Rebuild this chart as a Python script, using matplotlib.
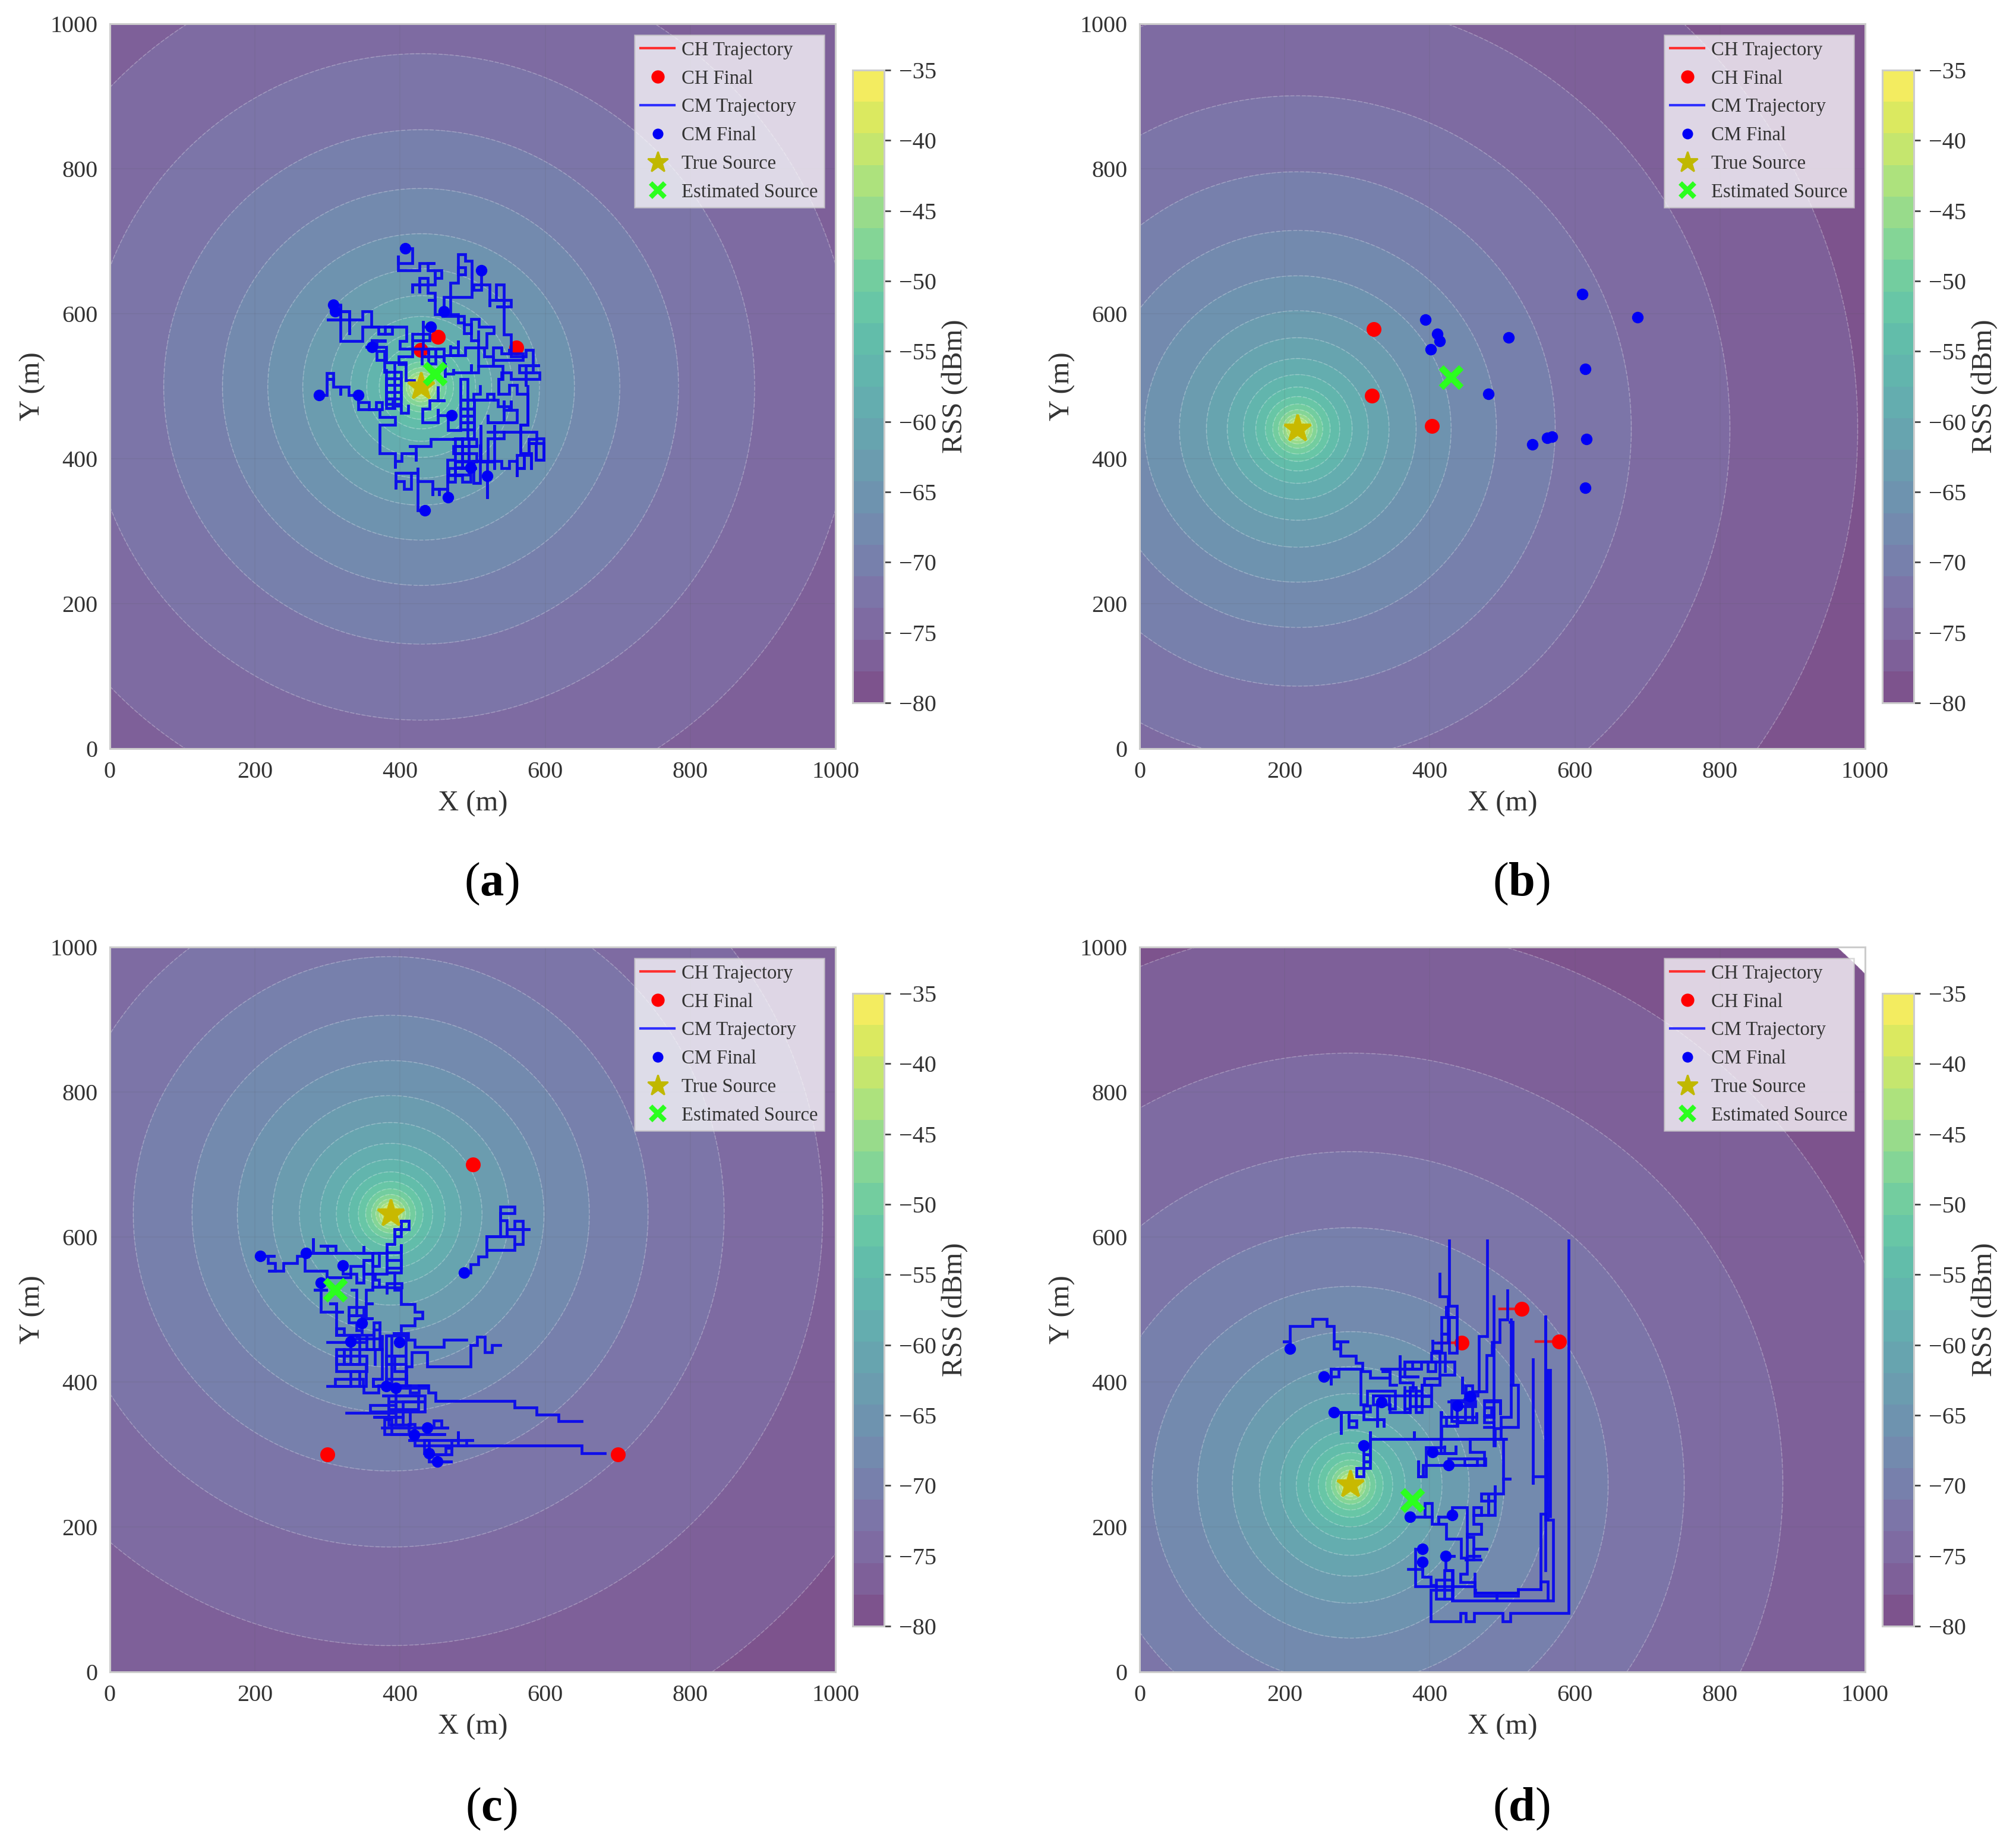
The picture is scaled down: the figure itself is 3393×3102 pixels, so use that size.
import numpy as np
import matplotlib
matplotlib.use("Agg")
import matplotlib.pyplot as plt
from matplotlib.lines import Line2D

W, H = 3393, 3102
plt.rcParams['font.family'] = ['Liberation Serif', 'DejaVu Serif']
plt.rcParams['mathtext.fontset'] = 'custom'
plt.rcParams['mathtext.rm'] = 'Liberation Serif'
plt.rcParams['mathtext.bf'] = 'Liberation Serif:bold'

panel_labels = ['a', 'b', 'c', 'd']
legend_labels = ['CH Trajectory', 'CH Final', 'CM Trajectory', 'CM Final', 'True Source', 'Estimated Source']
rss_levels = np.linspace(-80, -35, 21)
rss_ticks = [-35, -40, -45, -50, -55, -60, -65, -70, -75, -80]
axis_ticks = [0, 200, 400, 600, 800, 1000]

true_source = {'a': (429, 499), 'b': (218, 441), 'c': (387, 632), 'd': (291, 258)}
est_source = {'a': (448, 517), 'b': (429, 512), 'c': (310, 527), 'd': (376, 237)}

ch_final_a = [(452, 568), (428, 550), (560, 553)]
ch_final_b = [(323, 579), (320, 487), (403, 445)]
ch_final_c = [(300, 300), (500, 700), (700, 300)]
ch_final_d = [(444, 454), (527, 501), (578, 456)]

cm_final_a = [(407, 690), (512, 660), (308, 612), (310, 603), (460, 603), (442, 582), (361, 554),
              (288, 488), (342, 488), (471, 460), (497, 388), (520, 376), (466, 347), (434, 329)]
cm_final_b = [(610, 627), (686, 595), (394, 592), (410, 572), (414, 562), (509, 567), (401, 551),
              (614, 524), (481, 489), (541, 420), (568, 430), (562, 429), (616, 427), (614, 360)]
cm_final_c = [(207, 574), (270, 578), (321, 561), (291, 537), (347, 481), (332, 456), (399, 455),
              (381, 394), (394, 392), (437, 337), (419, 327), (440, 302), (451, 290), (488, 551)]
cm_final_d = [(207, 446), (254, 407), (268, 358), (333, 372), (309, 312), (438, 367), (404, 303),
              (426, 285), (373, 214), (431, 216), (390, 170), (422, 160), (390, 152), (455, 380)]

ch_paths_a = [[(438, 550), (428, 550)]]
ch_paths_d = [[(412, 454), (444, 454)], [(496, 501), (527, 501)], [(546, 456), (578, 456)]]

cm_paths_a = [
    [(407, 690), (417, 690), (417, 670), (397, 670), (397, 680), (397, 660), (427, 660), (427, 670), (448, 670),
     (438, 670), (438, 660), (457, 660), (457, 649), (448, 649), (448, 660), (448, 640), (438, 640), (438, 649),
     (427, 649), (427, 629), (427, 640), (417, 640), (417, 629), (417, 640), (438, 640), (438, 629), (448, 629),
     (448, 619), (438, 619), (448, 619), (448, 599), (468, 599), (480, 599), (480, 588), (488, 588), (488, 573),
     (498, 573), (498, 593), (509, 593), (509, 582), (529, 582), (529, 573), (519, 573), (519, 553)],
    [(460, 603), (460, 623), (499, 623), (499, 673), (490, 673), (490, 682), (480, 682), (480, 654), (490, 654),
     (490, 664), (480, 664), (480, 643), (469, 643), (469, 599), (459, 597), (488, 597), (488, 585), (498, 585),
     (498, 563), (508, 563), (508, 575)],
    [(512, 660), (512, 640), (501, 640), (501, 633), (512, 633), (512, 640), (523, 640), (523, 610), (523, 619),
     (553, 619), (553, 610), (532, 610), (543, 610), (543, 619), (532, 619), (532, 640), (543, 640), (543, 571),
     (553, 571), (553, 560), (553, 541), (564, 541), (573, 541), (573, 550), (583, 550), (583, 519), (573, 519),
     (573, 500), (573, 529), (592, 529), (564, 529), (564, 519), (592, 519), (592, 510), (553, 510), (553, 519),
     (540, 519), (540, 510), (536, 505), (536, 489)],
    [(310, 603), (330, 603), (330, 571), (330, 603), (318, 603), (318, 612), (318, 562), (348, 562), (348, 582),
     (360, 582), (409, 582), (409, 562), (400, 562), (400, 552), (417, 552), (417, 572), (441, 572), (441, 563),
     (417, 563)],
    [(308, 612), (318, 612), (318, 592), (299, 592), (348, 592), (348, 603), (360, 603), (360, 582), (370, 582),
     (370, 572), (389, 572), (389, 582), (379, 582), (379, 572)],
    [(361, 554), (352, 554), (361, 554), (361, 563), (379, 562), (361, 563), (368, 554), (381, 552), (381, 536),
     (368, 536), (368, 548), (381, 548), (378, 536), (378, 520), (392, 520), (392, 533), (378, 533), (392, 533),
     (408, 529), (408, 508), (419, 508)],
    [(381, 522), (381, 475), (401, 475), (401, 520), (392, 520), (392, 470), (381, 470), (381, 511), (401, 511),
     (401, 502), (381, 502), (381, 492), (401, 492), (401, 483), (381, 483), (390, 481), (390, 473), (401, 473),
     (401, 463), (411, 463), (411, 473)],
    [(442, 582), (432, 590), (432, 552), (417, 552), (417, 541), (398, 541), (398, 530), (408, 530)],
    [(430, 531), (430, 552), (460, 552), (460, 531), (460, 541), (430, 541), (439, 541), (439, 552), (439, 531),
     (449, 531), (449, 552), (449, 541), (460, 543), (490, 543), (490, 553), (508, 553), (516, 551), (516, 541),
     (528, 541), (528, 553), (540, 553), (540, 545), (550, 545), (550, 552), (550, 545), (569, 545), (569, 536),
     (553, 536), (528, 541), (528, 530)],
    [(469, 555), (469, 543), (480, 543), (480, 563), (480, 553), (469, 553)],
    [(508, 563), (508, 519), (498, 519), (498, 530), (498, 519), (473, 517), (473, 524), (473, 517), (462, 512),
     (462, 530)],
    [(508, 528), (538, 528), (541, 510), (536, 510), (536, 489), (550, 502), (561, 502), (561, 489), (576, 488),
     (576, 447), (566, 447), (566, 407), (577, 407), (577, 427), (588, 428), (588, 421), (598, 421), (598, 398),
     (587, 398), (587, 421), (577, 421), (577, 405), (561, 393), (561, 375), (561, 387), (571, 387), (571, 407),
     (581, 407), (581, 387)],
    [(288, 488), (299, 488), (299, 518), (308, 518), (308, 510), (299, 510), (308, 510), (308, 499), (318, 499),
     (318, 488), (318, 499), (329, 499), (329, 488), (342, 488), (342, 468), (375, 468), (375, 478), (367, 478),
     (367, 468), (357, 468), (357, 478), (342, 478)],
    [(372, 468), (372, 457), (393, 457), (393, 447), (372, 447), (372, 407), (393, 407), (393, 387), (393, 397),
     (402, 397), (402, 407), (422, 407), (422, 397), (422, 417), (412, 417), (442, 417), (442, 427), (473, 427)],
    [(434, 329), (424, 329), (424, 388), (424, 380), (394, 380), (394, 358), (394, 369), (405, 369), (405, 358),
     (415, 358), (415, 380), (424, 380), (424, 369), (445, 369), (445, 349), (445, 358), (454, 358), (454, 349),
     (454, 358), (465, 358), (465, 347), (465, 398), (476, 398), (476, 428), (486, 428), (486, 387), (467, 387),
     (467, 377), (486, 377), (476, 377), (476, 397), (495, 397), (495, 407), (476, 407), (476, 417), (505, 417)],
    [(473, 427), (505, 427), (505, 417), (473, 417), (473, 407), (505, 407), (505, 396), (476, 396), (476, 387),
     (505, 387), (486, 387), (486, 428), (495, 428), (495, 378), (476, 378)],
    [(471, 460), (452, 460), (452, 469), (452, 450), (431, 450), (431, 469), (441, 469), (441, 480), (452, 480),
     (462, 480), (452, 480), (452, 498)],
    [(471, 460), (466, 460), (466, 439), (483, 439), (483, 510), (493, 510), (493, 428), (502, 428), (502, 481),
     (483, 481), (502, 469), (483, 469), (502, 459), (483, 459), (502, 450), (483, 450), (502, 440), (483, 440)],
    [(502, 481), (529, 481), (529, 489), (520, 489), (520, 481), (501, 481), (501, 489), (510, 489), (510, 500)],
    [(529, 481), (535, 472), (550, 467), (561, 469), (561, 450), (521, 450), (521, 461), (521, 450), (543, 480),
     (543, 467), (553, 480), (553, 467)],
    [(521, 437), (543, 437), (543, 428), (521, 428), (521, 396), (511, 396), (511, 447), (511, 396), (530, 385),
     (530, 447), (530, 428)],
    [(543, 437), (588, 437), (588, 428), (598, 428), (598, 398), (587, 398), (587, 421), (577, 421), (577, 407),
     (566, 407), (566, 447), (576, 447), (576, 500)],
    [(498, 397), (540, 397), (540, 387), (550, 387), (550, 397), (561, 397), (561, 375), (561, 387), (571, 387),
     (571, 407), (581, 407), (581, 387)],
    [(497, 388), (476, 388), (476, 368), (466, 368), (466, 378), (486, 378), (486, 368), (497, 388), (501, 380),
     (501, 397), (510, 397), (510, 420), (510, 366), (501, 366), (501, 397), (520, 366), (520, 345), (520, 376)],
]

cm_paths_c = [
    [(488, 551), (497, 551), (497, 562), (508, 562), (508, 573), (519, 573), (519, 601), (558, 601), (558, 582),
     (519, 582), (519, 601), (538, 601), (538, 642), (558, 642), (558, 633), (538, 633), (538, 623), (547, 623),
     (547, 601), (547, 611), (579, 611), (558, 611), (558, 622), (569, 622), (569, 590), (558, 590)],
    [(412, 622), (401, 622), (401, 611), (412, 611), (412, 622), (401, 622), (401, 611), (392, 611), (392, 601),
     (401, 601), (401, 611), (392, 601), (392, 590), (382, 590), (382, 551), (401, 551), (401, 590), (401, 579),
     (382, 579), (382, 568), (401, 568), (401, 557), (382, 557), (382, 551), (392, 551), (392, 527), (401, 527),
     (401, 507), (420, 507), (420, 497), (431, 497), (431, 488), (420, 488), (420, 478), (401, 478), (401, 467),
     (390, 467), (411, 467), (411, 458), (420, 458), (420, 448), (460, 448), (460, 458), (491, 458)],
    [(538, 451), (527, 451), (527, 441), (517, 441), (517, 462), (506, 462), (506, 451), (497, 451), (497, 421),
     (437, 421), (437, 441), (416, 441), (416, 421), (409, 421), (409, 395)],
    [(650, 346), (618, 346), (618, 355), (588, 355), (588, 365), (558, 365), (558, 374), (449, 374), (449, 385),
     (439, 385), (439, 395), (409, 395), (381, 395)],
    [(682, 302), (650, 302), (650, 312), (420, 312), (420, 320), (411, 320), (501, 320), (491, 320), (491, 312),
     (480, 312), (480, 332), (480, 320), (471, 320), (471, 300), (441, 300), (463, 300), (463, 309), (471, 309)],
    [(451, 290), (472, 290), (451, 290), (440, 302), (440, 320), (433, 302)],
    [(375, 337), (467, 337), (457, 337), (457, 347), (446, 347), (446, 337), (437, 337), (437, 328), (463, 328),
     (388, 328), (378, 328), (378, 348), (388, 348), (388, 328), (420, 328), (420, 342), (412, 342), (412, 332)],
    [(326, 357), (394, 357), (394, 368), (359, 368), (359, 359), (414, 359), (414, 341), (394, 341), (394, 381),
     (375, 381), (425, 381), (425, 362), (384, 362), (384, 373), (434, 373), (404, 373), (404, 352), (363, 352),
     (404, 352), (404, 341), (384, 341), (384, 381), (434, 359), (414, 359)],
    [(394, 381), (394, 392), (409, 392), (409, 410), (409, 392), (438, 395), (426, 395), (426, 385), (414, 385),
     (414, 395), (370, 385), (350, 385), (350, 394)],
    [(300, 394), (349, 394), (349, 404), (310, 404), (310, 394), (332, 394), (332, 415), (344, 415), (344, 394),
     (353, 394), (353, 425), (323, 425), (323, 445), (312, 445), (312, 415), (354, 415), (354, 436), (312, 436),
     (312, 425), (332, 425), (332, 464), (344, 464), (344, 425), (323, 445), (365, 445), (365, 425)],
    [(300, 455), (345, 455), (354, 464), (354, 445), (375, 445), (375, 404), (363, 404), (363, 394), (375, 394),
     (363, 404)],
    [(381, 464), (381, 395), (388, 395), (388, 464), (381, 464), (408, 448), (408, 395), (381, 395), (381, 404),
     (408, 404), (408, 415), (392, 415), (392, 436), (408, 436), (381, 436), (381, 425), (408, 425)],
    [(207, 574), (228, 574), (218, 574), (218, 564), (228, 564), (228, 553), (218, 553), (239, 553), (239, 564),
     (258, 564), (258, 574), (269, 574), (269, 553), (299, 553), (299, 544), (323, 544), (332, 544), (332, 560),
     (350, 560), (350, 549), (382, 549)],
    [(270, 578), (300, 578), (300, 588), (289, 588), (311, 588), (311, 578), (280, 578), (280, 598), (280, 578),
     (350, 578), (350, 588), (350, 578), (362, 578), (362, 527), (353, 527), (353, 508), (363, 508), (353, 508),
     (353, 488), (363, 488), (353, 488)],
    [(371, 578), (371, 560), (362, 560), (362, 578), (382, 581)],
    [(321, 561), (321, 549), (340, 549), (340, 537), (350, 537), (350, 568), (360, 568), (350, 549), (365, 541),
     (371, 541), (371, 531), (360, 531), (382, 536), (382, 530), (402, 536), (382, 536), (382, 523)],
    [(291, 537), (291, 527), (281, 527), (300, 527), (291, 527), (291, 497), (322, 497), (312, 497), (312, 508),
     (302, 508), (312, 508), (312, 465), (323, 465), (323, 474), (312, 474), (312, 465), (333, 465), (345, 465),
     (340, 460), (375, 465), (375, 445)],
    [(333, 527), (340, 523), (340, 492), (329, 492), (329, 503), (350, 503), (350, 482), (329, 482), (329, 492),
     (340, 492), (347, 481), (340, 481), (340, 471), (347, 471), (347, 465), (364, 465), (364, 472), (372, 472),
     (372, 482), (364, 482), (364, 445), (372, 445), (372, 482)],
]

cm_paths_d = [
    [(207, 446), (207, 456), (197, 456), (207, 456), (207, 477), (238, 477), (238, 487), (258, 487), (258, 477),
     (268, 477), (268, 446), (277, 446), (277, 456), (268, 456), (288, 456), (277, 456), (277, 436), (298, 436),
     (298, 426), (307, 426), (307, 415), (318, 415), (318, 406), (345, 406), (345, 415), (333, 415), (345, 415),
     (345, 396), (354, 396)],
    [(254, 407), (274, 407), (274, 418), (264, 418), (264, 396), (264, 418), (305, 418), (305, 369), (314, 377),
     (314, 388), (352, 388), (352, 363), (344, 363), (344, 381), (322, 381), (322, 369), (345, 369)],
    [(268, 358), (278, 358), (278, 328), (278, 358), (288, 358), (288, 338), (299, 338), (299, 347), (288, 347),
     (288, 358), (309, 358), (309, 367), (318, 367), (318, 359), (309, 359), (309, 348), (328, 348), (328, 338),
     (328, 348), (337, 348), (337, 338), (337, 348), (328, 348), (328, 367), (333, 372)],
    [(333, 418), (386, 418), (365, 418), (365, 428), (408, 428), (408, 415), (397, 415), (397, 428), (388, 428),
     (388, 418), (376, 418), (376, 428), (365, 428), (365, 407), (385, 407), (359, 407), (359, 437), (359, 399),
     (377, 399), (377, 388), (365, 388), (365, 363), (373, 363), (373, 388)],
    [(365, 393), (365, 358), (373, 358), (373, 393), (381, 393), (381, 358), (389, 358), (389, 396)],
    [(322, 381), (400, 380), (389, 380), (389, 396), (402, 396), (402, 366), (381, 366), (381, 388), (389, 388),
     (389, 366), (373, 358), (365, 358), (345, 369)],
    [(414, 549), (414, 518), (425, 518), (425, 454), (404, 458), (404, 440), (421, 440), (421, 428), (434, 428),
     (434, 410), (414, 410), (414, 405), (392, 396), (414, 405), (414, 440), (402, 428), (421, 428), (421, 415)],
    [(427, 595), (427, 505), (437, 505), (437, 489), (423, 489), (423, 505), (423, 489), (437, 489), (437, 440),
     (427, 440), (427, 489), (416, 466), (427, 466), (416, 466), (416, 443), (404, 443)],
    [(479, 595), (479, 463), (468, 463), (468, 387), (459, 387), (459, 376), (448, 376)],
    [(507, 526), (507, 486), (496, 486), (496, 455), (486, 455), (486, 437), (478, 437), (478, 387), (466, 381)],
    [(488, 518), (488, 312), (490, 336), (498, 336), (498, 352), (512, 352), (512, 396), (522, 396), (522, 338),
     (498, 338), (498, 321)],
    [(512, 486), (512, 396), (514, 396), (514, 483), (510, 483)],
    [(475, 375), (497, 375), (497, 355), (497, 373), (475, 373), (475, 354), (485, 365), (475, 365), (488, 352),
     (475, 344), (488, 344), (488, 338), (475, 338)],
    [(309, 312), (318, 312), (318, 332), (318, 281), (299, 281), (299, 270), (309, 270), (309, 312), (318, 300),
     (309, 300), (318, 290), (309, 290), (318, 321), (378, 321), (378, 332), (378, 321), (505, 321), (455, 321),
     (455, 303), (475, 303), (475, 285), (426, 285)],
    [(426, 285), (391, 285), (391, 270), (384, 270), (384, 292), (384, 270), (395, 270), (395, 310), (420, 312),
     (420, 302), (395, 302), (436, 312), (436, 302), (420, 302), (415, 302), (415, 358), (416, 352), (438, 352),
     (423, 339), (416, 329), (416, 321)],
    [(475, 285), (477, 285), (477, 294), (448, 294), (448, 285), (465, 285), (465, 294), (426, 285)],
    [(426, 373), (463, 373), (463, 366), (437, 366), (437, 339), (423, 339), (438, 352), (464, 358), (464, 344),
     (436, 344), (459, 344), (459, 395), (449, 395), (449, 346), (430, 346), (430, 375), (455, 380), (462, 385),
     (445, 385), (445, 407), (445, 385), (455, 385), (462, 370), (450, 370), (450, 392)],
    [(505, 321), (501, 321), (501, 266), (512, 266), (501, 266), (501, 246), (471, 246), (471, 236), (490, 236),
     (490, 257), (490, 216), (481, 216), (481, 246), (481, 216), (460, 216), (460, 227), (471, 227), (471, 216),
     (460, 216), (460, 204), (471, 204), (471, 190), (451, 190), (451, 160), (470, 160), (451, 160)],
    [(431, 216), (431, 227), (451, 227), (451, 186), (460, 186), (460, 170), (480, 170), (460, 170), (460, 155),
     (448, 155), (470, 155)],
    [(373, 214), (403, 214), (403, 233), (393, 233), (393, 214), (403, 214), (403, 204), (423, 204), (423, 184),
     (443, 184), (443, 157), (451, 157), (451, 135), (442, 135), (442, 124), (462, 124), (462, 109), (492, 109),
     (492, 98), (492, 109), (522, 109), (522, 114), (553, 114), (553, 125), (563, 125), (563, 100)],
    [(421, 214), (431, 214), (412, 214), (412, 204), (412, 214)],
    [(422, 160), (435, 160), (422, 160), (422, 140), (431, 140), (431, 98), (570, 98), (570, 210), (559, 210),
     (559, 492), (559, 270), (542, 270), (542, 259), (542, 431)],
    [(563, 210), (563, 416), (566, 416), (566, 215)],
    [(553, 114), (553, 218), (559, 218), (559, 140)],
    [(591, 595), (591, 81), (511, 81), (511, 70), (500, 70), (500, 81), (461, 81), (461, 70), (450, 70), (450, 81),
     (442, 81), (442, 70), (401, 70), (401, 113), (432, 113), (432, 127), (409, 127), (409, 101), (432, 101),
     (432, 140), (420, 140), (420, 101)],
    [(390, 170), (380, 170), (380, 118), (462, 120), (462, 135)],
    [(370, 142), (390, 142), (390, 152), (390, 131), (401, 131), (401, 120), (409, 120)],
    [(522, 114), (522, 109), (463, 113), (462, 105), (492, 105), (522, 109)],
]


def rss_field(src):
    xs = np.linspace(0, 1000, 500)
    ys = np.linspace(0, 1000, 500)
    X, Y = np.meshgrid(xs, ys)
    d = np.maximum(np.hypot(X - src[0], Y - src[1]), 1.0)
    return X, Y, -20 - 20 * np.log10(d)


fig = plt.figure(figsize=(W / 100, H / 100), dpi=100, facecolor='white')


def place(px_l, px_t, px_r, px_b):
    return [px_l / W, 1 - px_b / H, (px_r - px_l) / W, (px_b - px_t) / H]


panels = [
    ('a', 185, 40, ch_final_a, cm_final_a, ch_paths_a, cm_paths_a, 1488),
    ('b', 1918, 40, ch_final_b, cm_final_b, [], [], 1488),
    ('c', 185, 1594, ch_final_c, cm_final_c, [], cm_paths_c, 3045),
    ('d', 1918, 1594, ch_final_d, cm_final_d, ch_paths_d, cm_paths_d, 3045),
]

GREY = '#cccccc'
TXT = '#333333'
for name, left, top, chf, cmf, chp, cmp_, lab_y in panels:
    ax = fig.add_axes(place(left, top, left + 1221, top + 1220))
    X, Y, Z = rss_field(true_source[name])
    cf = ax.contourf(X, Y, Z, levels=rss_levels, cmap='viridis', alpha=0.7, zorder=1, antialiased=True)
    ax.contour(X, Y, Z, levels=rss_levels, colors='white', alpha=0.2, linewidths=1.3, zorder=1.5)
    ax.set_xlim(0, 1000)
    ax.set_ylim(0, 1000)
    ax.set_xticks(axis_ticks)
    ax.set_yticks(axis_ticks)
    ax.grid(True, color='#555555', alpha=0.1, lw=1.2, zorder=1.6)
    ax.tick_params(length=0, labelsize=29, labelcolor=TXT, pad=15)
    ax.set_xlabel('X (m)', fontsize=35, color=TXT, labelpad=9)
    ax.set_ylabel('Y (m)', fontsize=35, color=TXT, labelpad=5)
    for s in ax.spines.values():
        s.set_color(GREY)
        s.set_linewidth(2.2)

    for p in chp:
        px, py = zip(*p)
        ax.plot(px, py, color='#ff0000', lw=3.2, alpha=0.8, zorder=3)
    fx, fy = zip(*chf)
    ax.plot(fx, fy, ls='none', marker='o', ms=18, color='#ff0000', mew=0, zorder=4)
    for p in cmp_:
        px, py = zip(*p)
        ax.plot(px, py, color='#0808ee', lw=3.4, alpha=0.95, zorder=5, solid_joinstyle='miter',
                drawstyle='steps-post')
    fx, fy = zip(*cmf)
    ax.plot(fx, fy, ls='none', marker='o', ms=14, color='#0000f5', mew=0, zorder=6)
    sx, sy = true_source[name]
    ax.plot([sx], [sy], ls='none', marker='*', ms=34, color='#c8b900', mec='#c8b900', mew=3, zorder=7)
    ex, ey = est_source[name]
    ax.plot([ex], [ey], ls='none', marker='x', ms=25, color='#2bff1e', mew=8, zorder=8)

    handles = [
        Line2D([], [], color='#ff3030', lw=3),
        Line2D([], [], ls='none', marker='o', ms=16, color='#ff0000', mew=0),
        Line2D([], [], color='#3030ff', lw=3),
        Line2D([], [], ls='none', marker='o', ms=13, color='#0000f5', mew=0),
        Line2D([], [], ls='none', marker='*', ms=26, color='#c0b800', mew=2),
        Line2D([], [], ls='none', marker='x', ms=17, color='#2bff1e', mew=6),
    ]
    leg = ax.legend(handles, legend_labels, loc='upper right', fontsize=23.5, fancybox=False,
                    framealpha=0.75, edgecolor=GREY, borderpad=0.32, labelspacing=0.53,
                    handlelength=1.75, handletextpad=0.36, borderaxespad=0.58,
                    labelcolor=TXT, facecolor='white')
    leg.set_zorder(10)
    leg.get_frame().set_linewidth(1.8)

    cax = fig.add_axes(place(left + 1250, top + 78, left + 1303, top + 1143))
    cb = fig.colorbar(cf, cax=cax, ticks=rss_ticks)
    cb.outline.set_edgecolor(GREY)
    cb.outline.set_linewidth(2.2)
    cax.tick_params(length=8, width=2, color='#444444', labelsize=29, labelcolor=TXT, pad=10)
    cb.set_label('RSS (dBm)', fontsize=35, color=TXT, labelpad=6)

    fig.text((left + 642) / W, 1 - lab_y / H, rf'($\mathbf{{{name}}}$)', fontsize=58, ha='center', va='center',
             color='black')

fig.savefig('out.png', dpi=100, facecolor='white')
